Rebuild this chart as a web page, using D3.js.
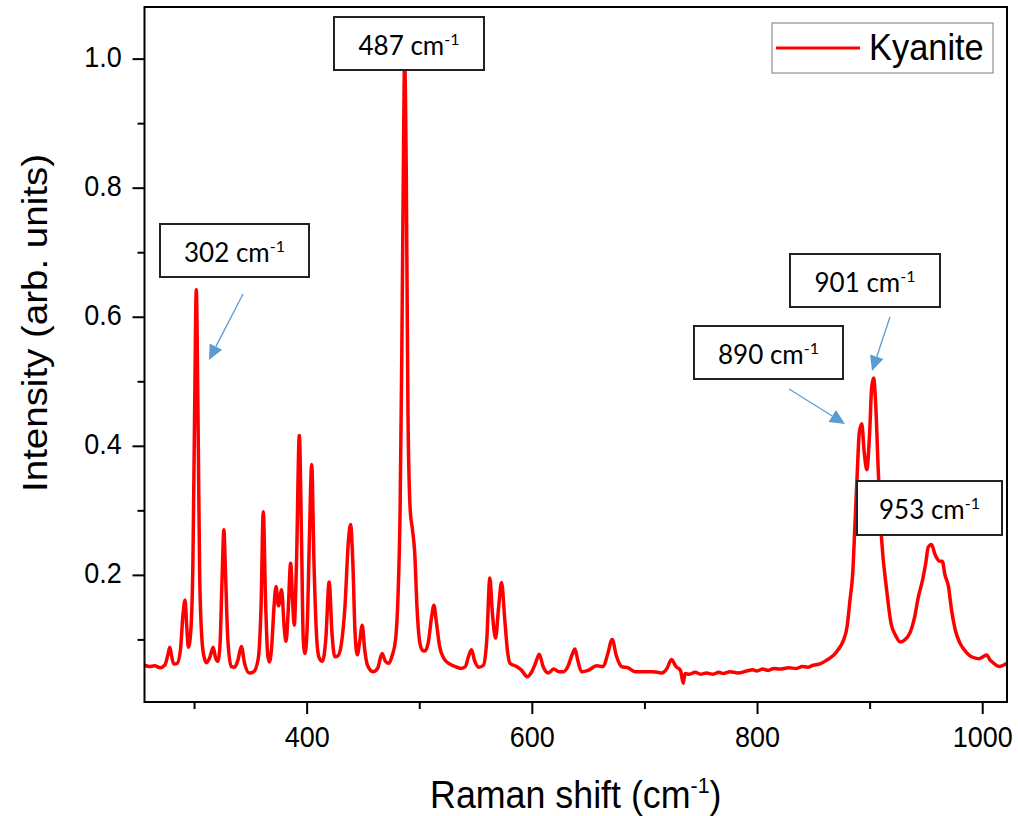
<!DOCTYPE html>
<html>
<head>
<meta charset="utf-8">
<script src="https://cdn.jsdelivr.net/npm/d3@7"></script>
<style>
  html, body { margin: 0; padding: 0; background: #fff; }
  svg { display: block; }
</style>
</head>
<body>
<svg id="chart" width="1018" height="816"></svg>
<script>
// ---------------- DATA ----------------
const ramanShift = [256,260,265,270,274,277,278.5,280,282,285,288,290,292,293.5,295,297,299,300.5,302,303.5,305,307,309,311,314,317,319,321,323,325,326.5,328,330,333,336,339,342,345,349,353,357,359.5,361.5,363.5,365.5,367,369,371,372.8,375,377.8,380,381.7,383.5,385.8,387.5,389,391,393.5,395.5,397,398.5,400.5,402.5,404.5,406.5,409,411,414,417,420,422.5,425,428,431,434,437,439,441,443,445,447,449.4,451.5,454,459,463,467,470,473,476,479,481,483,484.5,486,487,488.5,490,492,494,496,498,500.5,503,505,508,511,513,515,518,522,527,532,537,541,544,546.5,549,553,557,560,562.7,565,567.8,570.5,573.1,576,578.5,580.6,586.5,591,596,600,603,606.6,610,614.6,619.6,624,628,632,635.5,638.3,641,644.2,650,657.5,663.4,667,671.4,675,679.7,685.6,691.6,700,707.8,715.3,720,724,728,732,734.5,736,740,745,750,755,761,766,770,776,783,790.8,796,800,805,810,815,820,828,835,840,845,850,855.9,862,867.7,872,876.6,880,882.5,885,887,889,890.8,893,895.2,897.5,900,901.8,903.5,905.5,907.7,910.7,915.1,919,923.4,927,931,935.8,940,943.2,947,950,952,955,958,962.5,964.5,966.9,970,972.8,976,980,984,988.8,994,997,1000.7,1004,1007,1009.6,1015,1022];
const intensity = [0.060,0.058,0.059,0.056,0.060,0.078,0.088,0.075,0.062,0.063,0.085,0.135,0.161,0.120,0.088,0.110,0.220,0.450,0.642,0.450,0.200,0.100,0.072,0.064,0.072,0.088,0.072,0.066,0.090,0.200,0.270,0.200,0.100,0.058,0.057,0.068,0.089,0.062,0.048,0.050,0.070,0.150,0.298,0.160,0.075,0.065,0.090,0.150,0.182,0.152,0.177,0.120,0.097,0.140,0.218,0.160,0.122,0.220,0.416,0.250,0.100,0.078,0.120,0.260,0.371,0.220,0.100,0.072,0.066,0.100,0.189,0.110,0.073,0.075,0.095,0.150,0.250,0.278,0.220,0.110,0.076,0.095,0.122,0.085,0.060,0.050,0.055,0.078,0.066,0.063,0.075,0.100,0.160,0.300,0.540,0.850,1.000,0.820,0.450,0.300,0.270,0.234,0.150,0.095,0.083,0.082,0.095,0.135,0.153,0.130,0.090,0.070,0.062,0.058,0.055,0.058,0.075,0.084,0.068,0.057,0.060,0.100,0.195,0.140,0.102,0.150,0.188,0.130,0.080,0.063,0.058,0.052,0.042,0.050,0.062,0.077,0.058,0.048,0.054,0.050,0.050,0.058,0.075,0.085,0.066,0.050,0.052,0.059,0.058,0.075,0.100,0.075,0.058,0.056,0.050,0.050,0.050,0.048,0.055,0.069,0.058,0.052,0.032,0.047,0.046,0.049,0.046,0.048,0.046,0.049,0.047,0.050,0.048,0.051,0.053,0.051,0.054,0.052,0.055,0.054,0.056,0.055,0.058,0.057,0.060,0.062,0.068,0.075,0.084,0.098,0.120,0.160,0.203,0.280,0.358,0.420,0.434,0.390,0.363,0.420,0.490,0.505,0.460,0.360,0.254,0.177,0.125,0.105,0.096,0.099,0.110,0.135,0.165,0.192,0.220,0.243,0.247,0.232,0.221,0.221,0.200,0.182,0.145,0.115,0.095,0.084,0.075,0.071,0.070,0.073,0.076,0.068,0.064,0.058,0.063,0.063];
const seriesName = "Kyanite";
const xTicks = [400, 600, 800, 1000];
const xMinorTicks = [300, 500, 700, 900];
const yTicks = [0.2, 0.4, 0.6, 0.8, 1.0];
const yMinorTicks = [0.1, 0.3, 0.5, 0.7, 0.9];
const xTitle = "Raman shift (cm";
const yTitle = "Intensity (arb. units)";
const peakLabels = ["302", "487", "890", "901", "953"];

// ---------------- LAYOUT ----------------
const plot = { left: 144.5, right: 1007, top: 7, bottom: 702 };
const squeeze = 0.93; // horizontal text compression seen in the reference
const annLayout = [
  { box: [160, 224, 149, 53], arrow: [243, 294, 209, 360] },
  { box: [334, 17, 150, 53], arrow: null },
  { box: [694, 326, 149, 53], arrow: [789, 389, 845, 424] },
  { box: [790, 254, 150, 53], arrow: [890, 317, 872, 371] },
  { box: [857, 481, 145, 54], arrow: null }
];

const svg = d3.select("#chart");
const x = d3.scaleLinear().domain([256, 1022]).range([plot.left, plot.right]);
const y = d3.scaleLinear().domain([0.003, 1.08]).range([plot.bottom, plot.top]);

const data = ramanShift.map((v, i) => ({ x: v, y: intensity[i] }));

svg.append("defs").append("clipPath").attr("id", "clip")
  .append("rect").attr("x", plot.left).attr("y", plot.top)
  .attr("width", plot.right - plot.left).attr("height", plot.bottom - plot.top);

// spectrum line
svg.append("path")
  .datum(data)
  .attr("clip-path", "url(#clip)")
  .attr("fill", "none")
  .attr("stroke", "#ff0000")
  .attr("stroke-width", 3.5)
  .attr("stroke-linejoin", "round")
  .attr("d", d3.line().x(d => x(d.x)).y(d => y(d.y)).curve(d3.curveMonotoneX));

// axes
const fontAxis = "'Liberation Sans', Arial, sans-serif";
const gx = svg.append("g").attr("transform", `translate(0,${plot.bottom})`)
  .call(d3.axisBottom(x).tickValues(xTicks).tickSize(12).tickSizeOuter(0).tickPadding(12).tickFormat(d3.format("d")));
const gxm = svg.append("g").attr("transform", `translate(0,${plot.bottom})`)
  .call(d3.axisBottom(x).tickValues(xMinorTicks).tickSize(7).tickSizeOuter(0).tickFormat(""));
const gy = svg.append("g").attr("transform", `translate(${plot.left},0)`)
  .call(d3.axisLeft(y).tickValues(yTicks).tickSize(12).tickSizeOuter(0).tickPadding(12.5).tickFormat(d3.format(".1f")));
const gym = svg.append("g").attr("transform", `translate(${plot.left},0)`)
  .call(d3.axisLeft(y).tickValues(yMinorTicks).tickSize(7).tickSizeOuter(0).tickFormat(""));
[gx, gxm, gy, gym].forEach(g => {
  g.select(".domain").remove();
  g.selectAll(".tick line").attr("stroke", "#000").attr("stroke-width", 2);
  g.selectAll(".tick text").attr("fill", "#000").style("font-family", fontAxis).style("font-size", "29px")
    .attr("transform", `scale(${squeeze},1)`);
});
gy.selectAll(".tick text").attr("dy", "0.27em");

// frame
svg.append("rect")
  .attr("x", plot.left).attr("y", plot.top)
  .attr("width", plot.right - plot.left).attr("height", plot.bottom - plot.top)
  .attr("fill", "none").attr("stroke", "#000").attr("stroke-width", 2);

// axis titles
const xt = svg.append("text")
  .attr("transform", `translate(${(plot.left + plot.right) / 2},808) scale(${squeeze},1)`)
  .attr("text-anchor", "middle")
  .style("font-family", fontAxis).style("font-size", "38.5px").attr("fill", "#000");
xt.append("tspan").text(xTitle);
xt.append("tspan").attr("dy", -15).style("font-size", "23px").text("-1");
xt.append("tspan").attr("dy", 15).text(")");

svg.append("text")
  .attr("transform", `translate(47,323) rotate(-90) scale(1,${squeeze})`)
  .attr("text-anchor", "middle")
  .style("font-family", fontAxis).style("font-size", "38.5px").attr("fill", "#000")
  .text(yTitle);

// legend
const lg = svg.append("g");
lg.append("rect").attr("x", 772).attr("y", 23).attr("width", 221).attr("height", 50)
  .attr("fill", "#fff").attr("stroke", "#7a7a7a").attr("stroke-width", 1);
lg.append("line").attr("x1", 776).attr("x2", 860).attr("y1", 48).attr("y2", 48)
  .attr("stroke", "#ff0000").attr("stroke-width", 3);
lg.append("text").attr("transform", `translate(869,60) scale(${squeeze},1)`)
  .style("font-family", fontAxis).style("font-size", "37px").attr("fill", "#000")
  .text(seriesName);

// annotations
const arrowColor = "#5b9bd5";
const annFont = "Lato, 'Open Sans', sans-serif";
peakLabels.forEach((lab, i) => {
  const L = annLayout[i];
  const [bx, by, bw, bh] = L.box;
  const g = svg.append("g");
  if (L.arrow) {
    const [x1, y1, x2, y2] = L.arrow;
    const ang = Math.atan2(y2 - y1, x2 - x1);
    const hl = 15, hw = 7;
    const bxp = x2 - hl * Math.cos(ang), byp = y2 - hl * Math.sin(ang);
    g.append("line").attr("x1", x1).attr("y1", y1).attr("x2", bxp).attr("y2", byp)
      .attr("stroke", arrowColor).attr("stroke-width", 1.3);
    const p1 = [bxp + hw * Math.sin(ang), byp - hw * Math.cos(ang)];
    const p2 = [bxp - hw * Math.sin(ang), byp + hw * Math.cos(ang)];
    g.append("polygon").attr("points", [[x2, y2], p1, p2].map(p => p.join(",")).join(" "))
      .attr("fill", arrowColor);
  }
  g.append("rect").attr("x", bx).attr("y", by).attr("width", bw).attr("height", bh)
    .attr("fill", "#fff").attr("stroke", "#222").attr("stroke-width", 2);
  const t = g.append("text").attr("x", bx + bw / 2).attr("y", by + 38)
    .attr("text-anchor", "middle")
    .style("font-family", annFont).style("font-size", "26px").attr("fill", "#000");
  t.append("tspan").text(lab + " cm");
  t.append("tspan").attr("dy", -10).style("font-size", "16px").text("-1");
});
</script>
</body>
</html>
